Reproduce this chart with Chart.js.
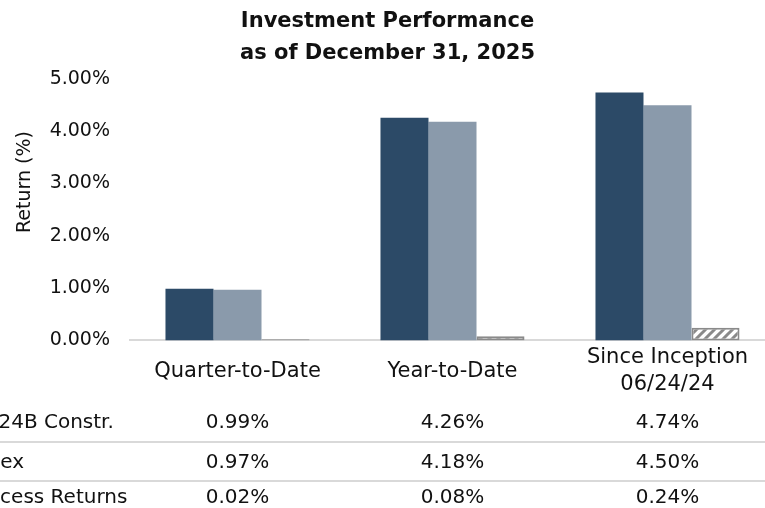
<!DOCTYPE html>
<html>
<head>
<meta charset="utf-8">
<script src="https://cdn.jsdelivr.net/npm/chart.js@4"></script>
<style>
  body { margin: 0; overflow: hidden; background: #fff; }
  #wrap { width: 790px; height: 508px; }
</style>
</head>
<body>
<div id="wrap"><canvas id="perf"></canvas></div>
<script>
// data
const categories = ['Quarter-to-Date', 'Year-to-Date', ['Since Inception', '06/24/24']];
const constrValues = [0.99, 4.26, 4.74];
const indexValues = [0.97, 4.18, 4.50];
const excessValues = [0.02, 0.08, 0.24];
const rowLabels = ['2024B Constr.', 'Index', 'Excess Returns'];
const yTicks = [0, 1, 2, 3, 4, 5];

const FONT = '"DejaVu Sans", sans-serif';

// hatch for excess bars
function makeHatch() {
  let c = document.createElement('canvas');
  c.width = 9; c.height = 9;
  let g = c.getContext('2d');
  g.fillStyle = '#fff';
  g.fillRect(0, 0, 9, 9);
  g.strokeStyle = '#8a8a8a';
  g.lineWidth = 3;
  g.beginPath();
  g.moveTo(-3, 12); g.lineTo(12, -3);
  g.moveTo(-3, 3); g.lineTo(3, -3);
  g.moveTo(6, 12); g.lineTo(12, 6);
  g.stroke();
  return g.createPattern(c, 'repeat');
}

function pct(v) {
  return v.toFixed(2) + '%';
}

// y title + data table under the chart
const tablePlugin = {
  id: 'table',
  afterDraw(chart) {
    let ctx = chart.ctx;
    let x = chart.scales.x;
    ctx.save();
    ctx.fillStyle = '#111';
    ctx.textBaseline = 'middle';

    ctx.save();
    ctx.translate(25, 182);
    ctx.rotate(-Math.PI / 2);
    ctx.textAlign = 'center';
    ctx.font = '19px ' + FONT;
    ctx.fillText('Return (%)', 0, 0);
    ctx.restore();

    let rows = [constrValues, indexValues, excessValues];
    let rowY = [423, 463, 498];
    let labelX = [-27, -31, -24];
    ctx.font = '20px ' + FONT;
    rows.forEach((vals, r) => {
      ctx.textAlign = 'left';
      ctx.fillText(rowLabels[r], labelX[r], rowY[r]);
      ctx.textAlign = 'center';
      vals.forEach((v, i) => {
        ctx.fillText(pct(v), x.getPixelForValue(i), rowY[r]);
      });
    });
    ctx.strokeStyle = '#d9d9d9';
    ctx.lineWidth = 2;
    [442, 481].forEach(y => {
      ctx.beginPath();
      ctx.moveTo(0, y);
      ctx.lineTo(chart.width, y);
      ctx.stroke();
    });
    ctx.restore();
  }
};

let ctx = document.getElementById('perf').getContext('2d');
let chart = new Chart(ctx, {
  type: 'bar',
  data: {
    labels: categories,
    datasets: [
      { label: rowLabels[0], data: constrValues, backgroundColor: '#2c4a67' },
      { label: rowLabels[1], data: indexValues, backgroundColor: '#8a9aab' },
      { label: rowLabels[2], data: excessValues, backgroundColor: makeHatch(),
        borderColor: '#8a8a8a', borderWidth: 2, borderSkipped: false }
    ]
  },
  options: {
    responsive: true,
    maintainAspectRatio: false,
    animation: false,
    categoryPercentage: 0.67,
    barPercentage: 1.0,
    layout: { padding: { left: 0, right: 15, top: 0, bottom: 87 } },
    plugins: {
      legend: { display: false },
      tooltip: { enabled: false },
      title: {
        display: true,
        text: ['Investment Performance', 'as of December 31, 2025'],
        color: '#111',
        font: { family: FONT, size: 21, weight: 'bold', lineHeight: 1.5 },
        padding: { top: 6, bottom: 10 }
      }
    },
    scales: {
      x: {
        grid: { display: false },
        border: { display: true, color: '#d9d9d9', width: 2 },
        ticks: {
          color: '#111',
          font: { family: FONT, size: 21, lineHeight: 1.3 },
          padding: 9,
          crossAlign: 'center',
          maxRotation: 0,
          autoSkip: false
        }
      },
      y: {
        min: 0,
        max: 5,
        afterBuildTicks(s) { s.ticks = yTicks.map(v => ({ value: v })); },
        afterFit(s) { s.width = 130; },
        grid: { display: false },
        border: { display: false },
        ticks: {
          color: '#111',
          font: { family: FONT, size: 19 },
          padding: 12,
          callback: v => pct(v)
        }
      }
    }
  },
  plugins: [tablePlugin]
});
</script>
</body>
</html>
